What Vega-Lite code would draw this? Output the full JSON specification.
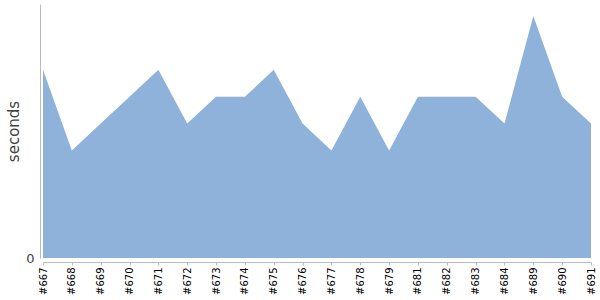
{
  "$schema": "https://vega.github.io/schema/vega-lite/v6.json",
  "autosize": "none",
  "width": 548,
  "height": 254,
  "padding": {"left": 43, "top": 4, "right": 9, "bottom": 42},
  "background": "white",
  "config": {"view": {"stroke": null}, "font": "DejaVu Sans"},
  "data": {"values": [
    {"build": "#667", "seconds": 7},
    {"build": "#668", "seconds": 4},
    {"build": "#669", "seconds": 5},
    {"build": "#670", "seconds": 6},
    {"build": "#671", "seconds": 7},
    {"build": "#672", "seconds": 5},
    {"build": "#673", "seconds": 6},
    {"build": "#674", "seconds": 6},
    {"build": "#675", "seconds": 7},
    {"build": "#676", "seconds": 5},
    {"build": "#677", "seconds": 4},
    {"build": "#678", "seconds": 6},
    {"build": "#679", "seconds": 4},
    {"build": "#681", "seconds": 6},
    {"build": "#682", "seconds": 6},
    {"build": "#683", "seconds": 6},
    {"build": "#684", "seconds": 5},
    {"build": "#689", "seconds": 9},
    {"build": "#690", "seconds": 6},
    {"build": "#691", "seconds": 5}
  ]},
  "mark": {"type": "area", "color": "#8fb2da", "opacity": 1},
  "encoding": {
    "x": {
      "field": "build", "type": "ordinal", "sort": null,
      "scale": {"type": "point", "padding": 0},
      "axis": {
        "title": null, "offset": 4, "domainColor": "#bbbbbb", "tickColor": "#bbbbbb",
        "tickSize": 3, "labelAngle": 270, "labelAlign": "right", "labelBaseline": "middle",
        "labelFontSize": 10, "labelColor": "#000000", "labelPadding": 2, "grid": false
      }
    },
    "y": {
      "field": "seconds", "type": "quantitative",
      "scale": {"domain": [0, 9.45], "nice": false},
      "axis": {
        "title": "seconds", "values": [0], "offset": 3, "domainColor": "#bbbbbb",
        "ticks": false, "grid": false, "labelFontSize": 13, "labelColor": "#444444",
        "labelPadding": 6, "labelFont": "DejaVu Sans", "titleFont": "DejaVu Sans",
        "titleFontSize": 15, "titleFontWeight": "normal", "titleColor": "#444444", "titlePadding": 4
      }
    }
  }
}
